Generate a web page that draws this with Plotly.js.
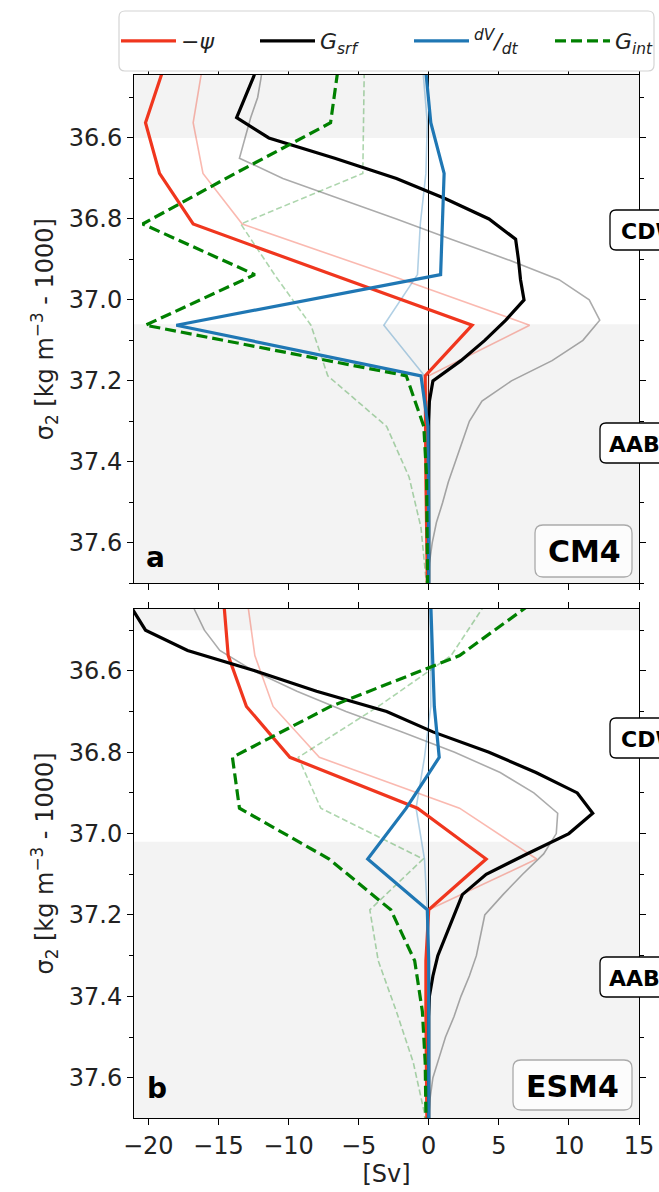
<!DOCTYPE html>
<html><head><meta charset="utf-8">
<script src="https://cdn.plot.ly/plotly-3.0.1.min.js"></script>
<style>html,body{margin:0;padding:0;background:#fff;}#plot{width:659px;height:1192px;}</style>
</head><body><div id="plot"></div>
<script>
// density levels (sigma_2 - 1000)
const sigmaCoarse = [36.4375, 36.5625, 36.6875, 36.8125, 36.9375, 37.0625, 37.1875, 37.3125, 37.4375, 37.5625, 37.6875, 37.8125];
const sigmaFine = [36.40, 36.45, 36.50, 36.55, 36.60, 36.65, 36.70, 36.75, 36.80, 36.85, 36.90, 36.95, 37.00, 37.05,
                   37.10, 37.15, 37.20, 37.25, 37.30, 37.35, 37.40, 37.45, 37.50, 37.55, 37.60, 37.65, 37.70, 37.75];

// Panel a: CM4
const cm4Psi      = [-19.0, -20.2, -19.2, -16.8, -6.9, 3.1, -0.25, -0.25, -0.2, -0.15, -0.1, -0.05];
const cm4DVdt     = [-0.2, 0.15, 1.1, 1.0, 0.85, -18.0, -0.55, -0.05, 0, 0, 0, 0];
const cm4Gint     = [-6.5, -7.0, -13.8, -20.4, -12.4, -20.2, -1.6, -0.35, -0.15, -0.1, -0.05, -0.05];
const cm4PsiRef   = [-16.2, -16.8, -16.1, -13.3, -2.9, 7.2, 0.0, -0.1, -0.1, -0.05, 0, 0];
const cm4DVdtRef  = [-0.4, -0.1, -0.2, -0.6, -0.8, -3.2, -0.3, -0.05, 0, 0, 0, 0];
const cm4GintRef  = [-4.6, -4.65, -4.7, -13.4, -11.0, -8.4, -7.2, -3.0, -1.4, -0.55, -0.2, -0.1];
const cm4Gsrf     = [-12.0, -12.5, -13.1, -13.7, -11.4, -6.7, -2.3, 1.2, 4.3, 6.2, 6.4, 6.55, 6.8, 5.5,
                     4.0, 2.3, 0.3, 0.05, 0, 0, 0, 0, 0, 0, 0, 0, 0, 0];
const cm4GsrfRef  = [-11.8, -11.95, -12.2, -12.7, -13.1, -13.5, -10.4, -6.3, -2.3, 1.6, 5.6, 9.3, 11.45, 12.2,
                     11.0, 8.8, 5.9, 3.8, 2.9, 2.4, 1.9, 1.4, 1.0, 0.55, 0.25, 0.05, 0, 0];

// Panel b: ESM4
const esm4Psi     = [-14.6, -14.3, -13.0, -9.9, -0.8, 4.1, 0.0, -0.2, -0.2, -0.15, -0.1, -0.1];
const esm4DVdt    = [0.15, 0.25, 0.4, 0.75, -1.6, -4.35, -0.1, 0, 0, 0, 0, 0];
const esm4Gint    = [7.2, 2.2, -7.0, -14.0, -13.5, -7.1, -2.7, -1.0, -0.45, -0.25, -0.2, -0.2];
const esm4PsiRef  = [-12.9, -12.4, -11.1, -7.8, 2.2, 7.7, 0.0, -0.1, -0.1, -0.05, 0, 0];
const esm4DVdtRef = [0.1, 0.1, 0.15, -0.3, -0.9, -0.3, -0.1, 0, 0, 0, 0, 0];
const esm4GintRef = [4.0, 1.6, -3.6, -9.3, -7.7, -0.4, -4.2, -3.6, -2.3, -1.1, -0.3, -0.1];
const esm4Gsrf    = [-22.0, -21.1, -20.2, -17.2, -12.4, -8.0, -3.0, 0.3, 4.3, 7.65, 10.6, 11.7, 10.0, 7.0,
                     4.1, 2.4, 1.8, 1.24, 0.65, 0.3, 0.05, 0, 0, 0, 0, 0, 0, 0];
const esm4GsrfRef = [-17.2, -16.7, -16.0, -14.9, -12.5, -9.4, -5.9, -1.9, 1.85, 5.1, 7.5, 9.2, 9.1, 8.2,
                     6.7, 5.3, 4.0, 3.7, 3.4, 2.9, 2.3, 1.8, 1.2, 0.75, 0.3, 0.1, 0, 0];

const legendNames = ['\u2212<i>\u03c8</i>', '<i>G<sub>srf</sub></i>', '<i><sup>dV</sup>/<sub>dt</sub></i>', '<i>G<sub>int</sub></i>'];
const xTicks = [-20, -15, -10, -5, 0, 5, 10, 15];
const yTicks = [36.6, 36.8, 37.0, 37.2, 37.4, 37.6];
const panelLetters = ['a', 'b'];
const modelNames = ['CM4', 'ESM4'];
const waterMasses = ['CDW', 'AABW'];

const FONT = 'DejaVu Sans';
const RED = '#f0361e', BLACK = '#000000', BLUE = '#1f77b4', GREEN = '#008000';
const lightRed = 'rgba(240,54,30,0.35)', lightBlack = 'rgba(0,0,0,0.33)', lightBlue = 'rgba(31,119,180,0.35)', lightGreen = 'rgba(0,128,0,0.32)';

// pixel geometry
const L = 134, R = 639, T = 75, B = 1118, W = R - L, H = B - T;
const px = p => (p - L) / W;
const py = p => (B - p) / H;

const entryWidths = [69, 84, 71, null];

function panelTraces(xa, ya, d, show) {
  const thin = 1.6, thick = 3.2;
  const main = (x, y, i, line) => {
    const t = {x: x, y: y, mode: 'lines', name: legendNames[i], line: line, xaxis: xa, yaxis: ya, showlegend: show};
    if (entryWidths[i]) t.legendwidth = entryWidths[i];
    return t;
  };
  return [
    {x: d.gsrfRef, y: sigmaFine, mode: 'lines', line: {color: lightBlack, width: thin}, xaxis: xa, yaxis: ya, showlegend: false, hoverinfo: 'skip'},
    {x: d.psiRef, y: sigmaCoarse, mode: 'lines', line: {color: lightRed, width: thin}, xaxis: xa, yaxis: ya, showlegend: false, hoverinfo: 'skip'},
    {x: d.dvRef, y: sigmaCoarse, mode: 'lines', line: {color: lightBlue, width: thin}, xaxis: xa, yaxis: ya, showlegend: false, hoverinfo: 'skip'},
    {x: d.gintRef, y: sigmaCoarse, mode: 'lines', line: {color: lightGreen, width: thin, dash: '6px,3px'}, xaxis: xa, yaxis: ya, showlegend: false, hoverinfo: 'skip'},
    main(d.psi, sigmaCoarse, 0, {color: RED, width: thick}),
    main(d.gsrf, sigmaFine, 1, {color: BLACK, width: thick}),
    main(d.dv, sigmaCoarse, 2, {color: BLUE, width: thick}),
    main(d.gint, sigmaCoarse, 3, {color: GREEN, width: thick, dash: '11px,5px'})
  ];
}

const data = [].concat(
  panelTraces('x2', 'y', {psi: cm4Psi, dv: cm4DVdt, gint: cm4Gint, gsrf: cm4Gsrf, psiRef: cm4PsiRef, dvRef: cm4DVdtRef, gintRef: cm4GintRef, gsrfRef: cm4GsrfRef}, true),
  panelTraces('x', 'y2', {psi: esm4Psi, dv: esm4DVdt, gint: esm4Gint, gsrf: esm4Gsrf, psiRef: esm4PsiRef, dvRef: esm4DVdtRef, gintRef: esm4GintRef, gsrfRef: esm4GsrfRef}, false)
);

function roundRect(x0, y0, x1, y1, r) {
  const rx = r / W, ry = r / H;
  const a = px(x0), b = px(x1), top = py(y0), bot = py(y1);
  return `M${a + rx},${top} L${b - rx},${top} Q${b},${top} ${b},${top - ry} L${b},${bot + ry} Q${b},${bot} ${b - rx},${bot} ` +
         `L${a + rx},${bot} Q${a},${bot} ${a},${bot + ry} L${a},${top - ry} Q${a},${top} ${a + rx},${top} Z`;
}

const shapes = [
  {type: 'rect', xref: 'x2 domain', yref: 'y', x0: 0, x1: 1, y0: 36.40, y1: 36.60, fillcolor: '#f3f3f3', line: {width: 0}, layer: 'below'},
  {type: 'rect', xref: 'x2 domain', yref: 'y', x0: 0, x1: 1, y0: 37.06, y1: 37.80, fillcolor: '#f3f3f3', line: {width: 0}, layer: 'below'},
  {type: 'rect', xref: 'x domain', yref: 'y2', x0: 0, x1: 1, y0: 36.40, y1: 36.50, fillcolor: '#f3f3f3', line: {width: 0}, layer: 'below'},
  {type: 'rect', xref: 'x domain', yref: 'y2', x0: 0, x1: 1, y0: 37.02, y1: 37.80, fillcolor: '#f3f3f3', line: {width: 0}, layer: 'below'},
  // legend frame
  {type: 'path', xref: 'paper', yref: 'paper', path: roundRect(119, 11, 654, 71, 6), fillcolor: 'white', line: {color: '#d4d4d4', width: 1.2}, layer: 'above'},
  // model boxes
  {type: 'path', xref: 'paper', yref: 'paper', path: roundRect(535, 525, 632, 577, 8), fillcolor: 'rgba(255,255,255,0.7)', line: {color: '#aaaaaa', width: 1.3}, layer: 'above'},
  {type: 'path', xref: 'paper', yref: 'paper', path: roundRect(513, 1060, 632, 1110, 8), fillcolor: 'rgba(255,255,255,0.7)', line: {color: '#aaaaaa', width: 1.3}, layer: 'above'},
  // water mass boxes (clipped at right edge, as in the original)
  {type: 'path', xref: 'paper', yref: 'paper', path: roundRect(610, 210, 720, 250, 6), fillcolor: 'white', line: {color: 'black', width: 1.3}, layer: 'above'},
  {type: 'path', xref: 'paper', yref: 'paper', path: roundRect(600, 423, 730, 463, 6), fillcolor: 'white', line: {color: 'black', width: 1.3}, layer: 'above'},
  {type: 'path', xref: 'paper', yref: 'paper', path: roundRect(610, 718, 720, 758, 6), fillcolor: 'white', line: {color: 'black', width: 1.3}, layer: 'above'},
  {type: 'path', xref: 'paper', yref: 'paper', path: roundRect(600, 957, 730, 997, 6), fillcolor: 'white', line: {color: 'black', width: 1.3}, layer: 'above'}
];

const annotations = [
  {text: '<b>' + panelLetters[0] + '</b>', xref: 'paper', yref: 'paper', x: px(155), y: py(557), xanchor: 'center', yanchor: 'middle', showarrow: false, font: {size: 28, family: FONT, color: 'black'}},
  {text: '<b>' + panelLetters[1] + '</b>', xref: 'paper', yref: 'paper', x: px(157), y: py(1088), xanchor: 'center', yanchor: 'middle', showarrow: false, font: {size: 28, family: FONT, color: 'black'}},
  {text: '<b>' + modelNames[0] + '</b>', xref: 'paper', yref: 'paper', x: px(584), y: py(551), xanchor: 'center', yanchor: 'middle', showarrow: false, font: {size: 30, family: FONT, color: 'black'}},
  {text: '<b>' + modelNames[1] + '</b>', xref: 'paper', yref: 'paper', x: px(572.5), y: py(1086), xanchor: 'center', yanchor: 'middle', showarrow: false, font: {size: 30, family: FONT, color: 'black'}},
  {text: '<b>' + waterMasses[0] + '</b>', xref: 'paper', yref: 'paper', x: px(619), y: py(231), xanchor: 'left', yanchor: 'middle', showarrow: false, font: {size: 22, family: FONT, color: 'black'}},
  {text: '<b>' + waterMasses[1] + '</b>', xref: 'paper', yref: 'paper', x: px(607), y: py(444), xanchor: 'left', yanchor: 'middle', showarrow: false, font: {size: 22, family: FONT, color: 'black'}},
  {text: '<b>' + waterMasses[0] + '</b>', xref: 'paper', yref: 'paper', x: px(619), y: py(739), xanchor: 'left', yanchor: 'middle', showarrow: false, font: {size: 22, family: FONT, color: 'black'}},
  {text: '<b>' + waterMasses[1] + '</b>', xref: 'paper', yref: 'paper', x: px(607), y: py(978), xanchor: 'left', yanchor: 'middle', showarrow: false, font: {size: 22, family: FONT, color: 'black'}}
];

const xCommon = {
  range: [-21.02, 15], tickvals: xTicks, ticks: 'outside', ticklen: 6, tickwidth: 1, tickcolor: 'black',
  showline: true, linecolor: 'black', linewidth: 1, mirror: 'ticks', showgrid: false,
  zeroline: true, zerolinecolor: 'black', zerolinewidth: 1.2,
  tickfont: {size: 24, family: FONT, color: '#222'}
};
const yCommon = {
  range: [37.70, 36.4445], tickvals: yTicks, tickformat: '.1f', ticks: 'outside', ticklen: 6, tickwidth: 1, tickcolor: 'black',
  minor: {dtick: 0.1, tick0: 36.5, ticks: 'outside', ticklen: 4, tickcolor: 'black'},
  showline: true, linecolor: 'black', linewidth: 1, mirror: 'ticks', showgrid: false, zeroline: false,
  tickfont: {size: 24, family: FONT, color: '#222'},
  title: {text: '\u03c3<sub>2</sub> [kg m<sup>\u22123</sup> - 1000]', font: {size: 24, family: FONT, color: '#222'}, standoff: 8}
};

const layout = {
  width: 659, height: 1192,
  margin: {l: L, r: 659 - R, t: T, b: 1192 - B},
  paper_bgcolor: 'white', plot_bgcolor: 'white',
  font: {family: FONT, color: '#222'},
  xaxis: Object.assign({}, xCommon, {anchor: 'y2', domain: [0, 1],
    title: {text: '[Sv]', font: {size: 24, family: FONT, color: '#222'}, standoff: 6}}),
  xaxis2: Object.assign({}, xCommon, {anchor: 'y', domain: [0, 1], matches: 'x', showticklabels: false}),
  yaxis: Object.assign({}, yCommon, {anchor: 'x2', domain: [py(583.3), 1]}),
  yaxis2: Object.assign({}, yCommon, {anchor: 'x', domain: [0, py(609)], range: [37.699, 36.448]}),
  showlegend: true,
  legend: {orientation: 'h', x: px(129), xanchor: 'left', y: py(41), yanchor: 'middle',
    bgcolor: 'rgba(0,0,0,0)', borderwidth: 0, itemwidth: 55,
    font: {size: 22, family: FONT, color: '#222'}},
  shapes: shapes,
  annotations: annotations
};

Plotly.newPlot('plot', data, layout, {displayModeBar: false, staticPlot: true});
</script>
</body></html>
